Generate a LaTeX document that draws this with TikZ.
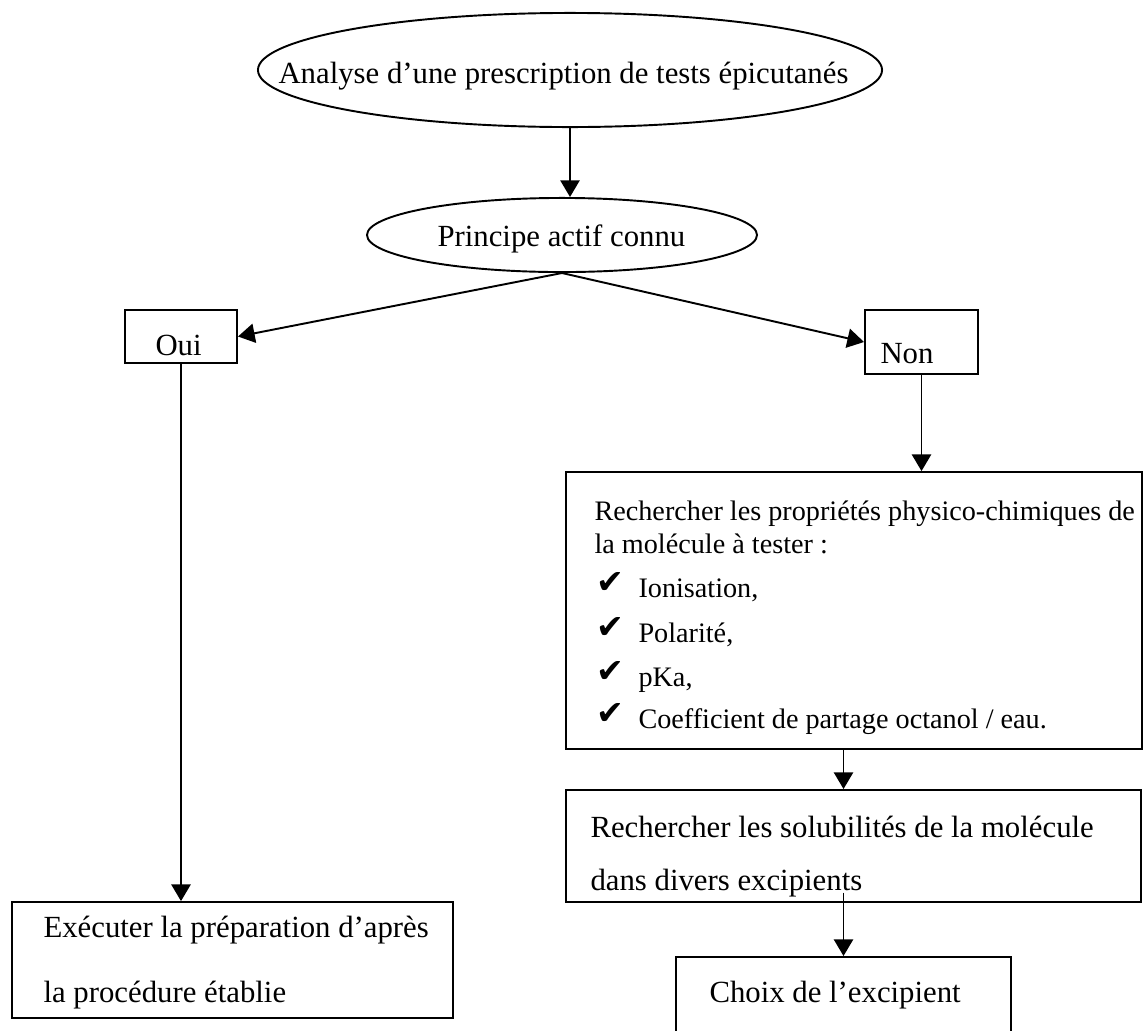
\documentclass[tikz,border=0pt]{standalone}
\usepackage{fontspec}
\setmainfont{Liberation Serif}
\newfontfamily\symbolfont{DejaVu Sans}
\usetikzlibrary{shapes.geometric}
\usetikzlibrary{arrows.meta}
\newcommand{\chk}{\raisebox{1.5pt}{\symbolfont\fontsize{13}{13}\selectfont ✔}}

\begin{document}
\begin{tikzpicture}[x=0.39pt, y=-0.39pt,
  every node/.style={font=\fontsize{12}{14}\selectfont},
  bubble/.style={draw, ellipse, line width=0.75pt, inner sep=0pt},
  box/.style={draw, rectangle, line width=0.75pt, inner sep=0pt},
  txt/.style={anchor=base west, inner sep=0pt},
  smalltxt/.style={txt, font=\fontsize{11}{13}\selectfont},
  flow/.style={line width=0.75pt, -{Triangle[width=7.5pt,length=6.5pt]}}]

\useasboundingbox (0,0) rectangle (1144,1030);
\clip (0,0) rectangle (1144,1030);

% Ellipses
  \node[bubble, minimum width=243.4pt, minimum height=44.5pt] (analyse) at (570,70) {};
    \node[txt] (analysetxt) at (278,83) {Analyse d’une prescription de tests épicutanés};
  \node[bubble, minimum width=152.1pt, minimum height=28.9pt] (principe) at (562,235) {};
    \node[txt] (principetxt) at (437,246) {Principe actif connu};

% Oui branch
  \node[box, minimum width=43.7pt, minimum height=20.7pt] (oui) at (181,336.5) {};
  \node[txt] (ouitxt) at (155,355) {Oui};

  \node[box, minimum width=172pt, minimum height=45.2pt] (exec) at (232.5,960) {};
    \node[txt] (exec1) at (43,937) {Exécuter la préparation d’après};
    \node[txt] (exec2) at (43,1002) {la procédure établie};

% Non branch
  \node[box, minimum width=44.1pt, minimum height=25pt] (non) at (921.5,342) {};
  \node[txt] (nontxt) at (880,363) {Non};

  \node[box, minimum width=224.6pt, minimum height=108pt] (props) at (854,610.5) {};
    \node[smalltxt] (props1) at (594,520) {Rechercher les propriétés physico-chimiques de};
    \node[smalltxt] (props2) at (594,553) {la molécule à tester :};
    \node[smalltxt] (chk1) at (596,597) {\chk};
    \node[smalltxt] (item1) at (638,597) {Ionisation,};
    \node[smalltxt] (chk2) at (596,642) {\chk};
    \node[smalltxt] (item2) at (638,642) {Polarité,};
    \node[smalltxt] (chk3) at (596,686) {\chk};
    \node[smalltxt] (item3) at (638,686) {pKa,};
    \node[smalltxt] (chk4) at (596,728) {\chk};
    \node[smalltxt] (item4) at (638,728) {Coefficient de partage octanol / eau.};

  \node[box, minimum width=224.3pt, minimum height=43.7pt] (solub) at (853.5,846) {};
    \node[txt] (solub1) at (590,837) {Rechercher les solubilités de la molécule};
    \node[txt] (solub2) at (590,890) {dans divers excipients};

  \node[box, minimum width=130.7pt, minimum height=32.4pt] (choix) at (843.5,998.5) {};
    \node[txt] (choixtxt) at (709,1002) {Choix de l’excipient};

% Arrows
\draw[flow] (analyse.south) -- (analyse.south |- principe.north);
\draw[flow] (principe.south) -- (oui.east);
\draw[flow] (principe.south) -- (non.west);
\draw[flow] (oui.south) -- (oui.south |- exec.north);
\draw[flow] (non.south) -- (non.south |- props.north);
\draw[flow] (props.south -| choix.north) -- (solub.north -| choix.north);
\draw[flow] ([yshift=4pt]solub.south -| choix.north) -- (choix.north);

\end{tikzpicture}
\end{document}
